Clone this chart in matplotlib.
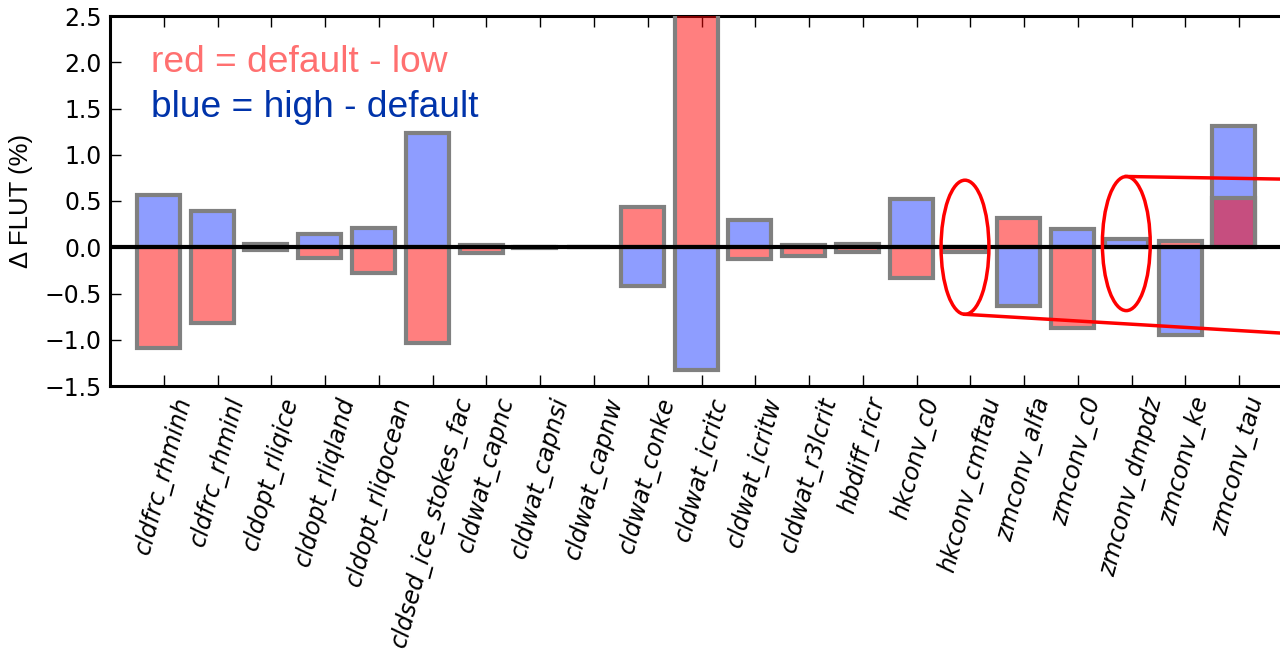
import matplotlib
matplotlib.use('Agg')
import matplotlib.pyplot as plt
import numpy as np
from matplotlib.patches import Ellipse

# parameter names and the two perturbation deltas (% change in FLUT)
params = ['cldfrc_rhminh', 'cldfrc_rhminl', 'cldopt_rliqice', 'cldopt_rliqland',
          'cldopt_rliqocean', 'cldsed_ice_stokes_fac', 'cldwat_capnc', 'cldwat_capnsi',
          'cldwat_capnw', 'cldwat_conke', 'cldwat_icritc', 'cldwat_icritw',
          'cldwat_r3lcrit', 'hbdiff_ricr', 'hkconv_c0', 'hkconv_cmftau',
          'zmconv_alfa', 'zmconv_c0', 'zmconv_dmpdz', 'zmconv_ke', 'zmconv_tau']

# red = default - low
default_minus_low = [-1.09, -0.82, -0.03, -0.12, -0.28, -1.035, -0.06, -0.01,
                     0.0, 0.435, 2.7, -0.13, -0.09, -0.05, -0.33, -0.05,
                     0.32, -0.87, 0.0, 0.07, 0.53]
# blue = high - default
high_minus_default = [0.57, 0.39, 0.03, 0.14, 0.21, 1.23, 0.02, 0.0,
                      0.0, -0.42, -1.33, 0.29, 0.02, 0.03, 0.525, 0.0,
                      -0.64, 0.195, 0.09, -0.945, 1.31]

# parameters circled in the figure
circled = ['hkconv_cmftau', 'zmconv_dmpdz']

width = 0.8
ind = np.arange(len(params))
blue = (0.12, 0.24, 1.0, 0.5)
red = (1.0, 0.0, 0.0, 0.5)

fig = plt.figure(figsize=(12.8, 6.49), dpi=100)
ax = fig.add_axes([110 / 1280, 263 / 649, 1183 / 1280, 370 / 649])

# faces first (translucent so the overlap mixes), grey outlines on top
ax.bar(ind, high_minus_default, width, align='edge', color=blue, linewidth=0, zorder=2)
ax.bar(ind, high_minus_default, width, align='edge', fill=False,
       edgecolor='#808080', linewidth=3, zorder=2.5)
ax.bar(ind, default_minus_low, width, align='edge', color=red, linewidth=0, zorder=3)
ax.bar(ind, default_minus_low, width, align='edge', fill=False,
       edgecolor='#808080', linewidth=3, zorder=3.5)

ax.axhline(0, color='black', linewidth=3, zorder=5)

ax.set_xlim(-0.5, 21.5)
ax.set_ylim(-1.5, 2.5)
ax.set_xticks(ind + 0.5)
ax.set_xticklabels(params, rotation=75, fontsize=17, fontstyle='italic')
ax.set_yticks(np.arange(-1.5, 2.51, 0.5))
ax.tick_params(axis='y', labelsize=17, direction='in', length=8, width=1, right=True, pad=6)
ax.tick_params(axis='x', direction='in', length=8, width=1, top=True, pad=6)
for s in ax.spines.values():
    s.set_linewidth(2.2)

ax.set_ylabel(u'\u0394 FLUT (%)', fontsize=18.5, family='Liberation Sans', labelpad=8)

ax.text(0.26, 1.89, 'red = default - low', color='#ff7070', fontsize=26.7,
        family='Liberation Sans', va='baseline')
ax.text(0.26, 1.405, 'blue = high - default', color='#0033aa', fontsize=26.7,
        family='Liberation Sans', va='baseline')

# red ellipses around the near-zero bars, with lines leading off to the right
for name in circled:
    i = params.index(name)
    yc = 0.0 if name == 'hkconv_cmftau' else 0.04
    ax.add_patch(Ellipse((i + width / 2, yc), 0.89, 1.45, fill=False,
                         edgecolor='red', linewidth=2.5, zorder=6))
x1 = params.index(circled[0]) + width / 2
x2 = params.index(circled[1]) + width / 2
ax.plot([x1, 22.5], [-0.725, -0.97], color='red', linewidth=2.5, clip_on=False, zorder=6)
ax.plot([x2, 22.5], [0.765, 0.725], color='red', linewidth=2.5, clip_on=False, zorder=6)

fig.savefig('out.png', dpi=100)
